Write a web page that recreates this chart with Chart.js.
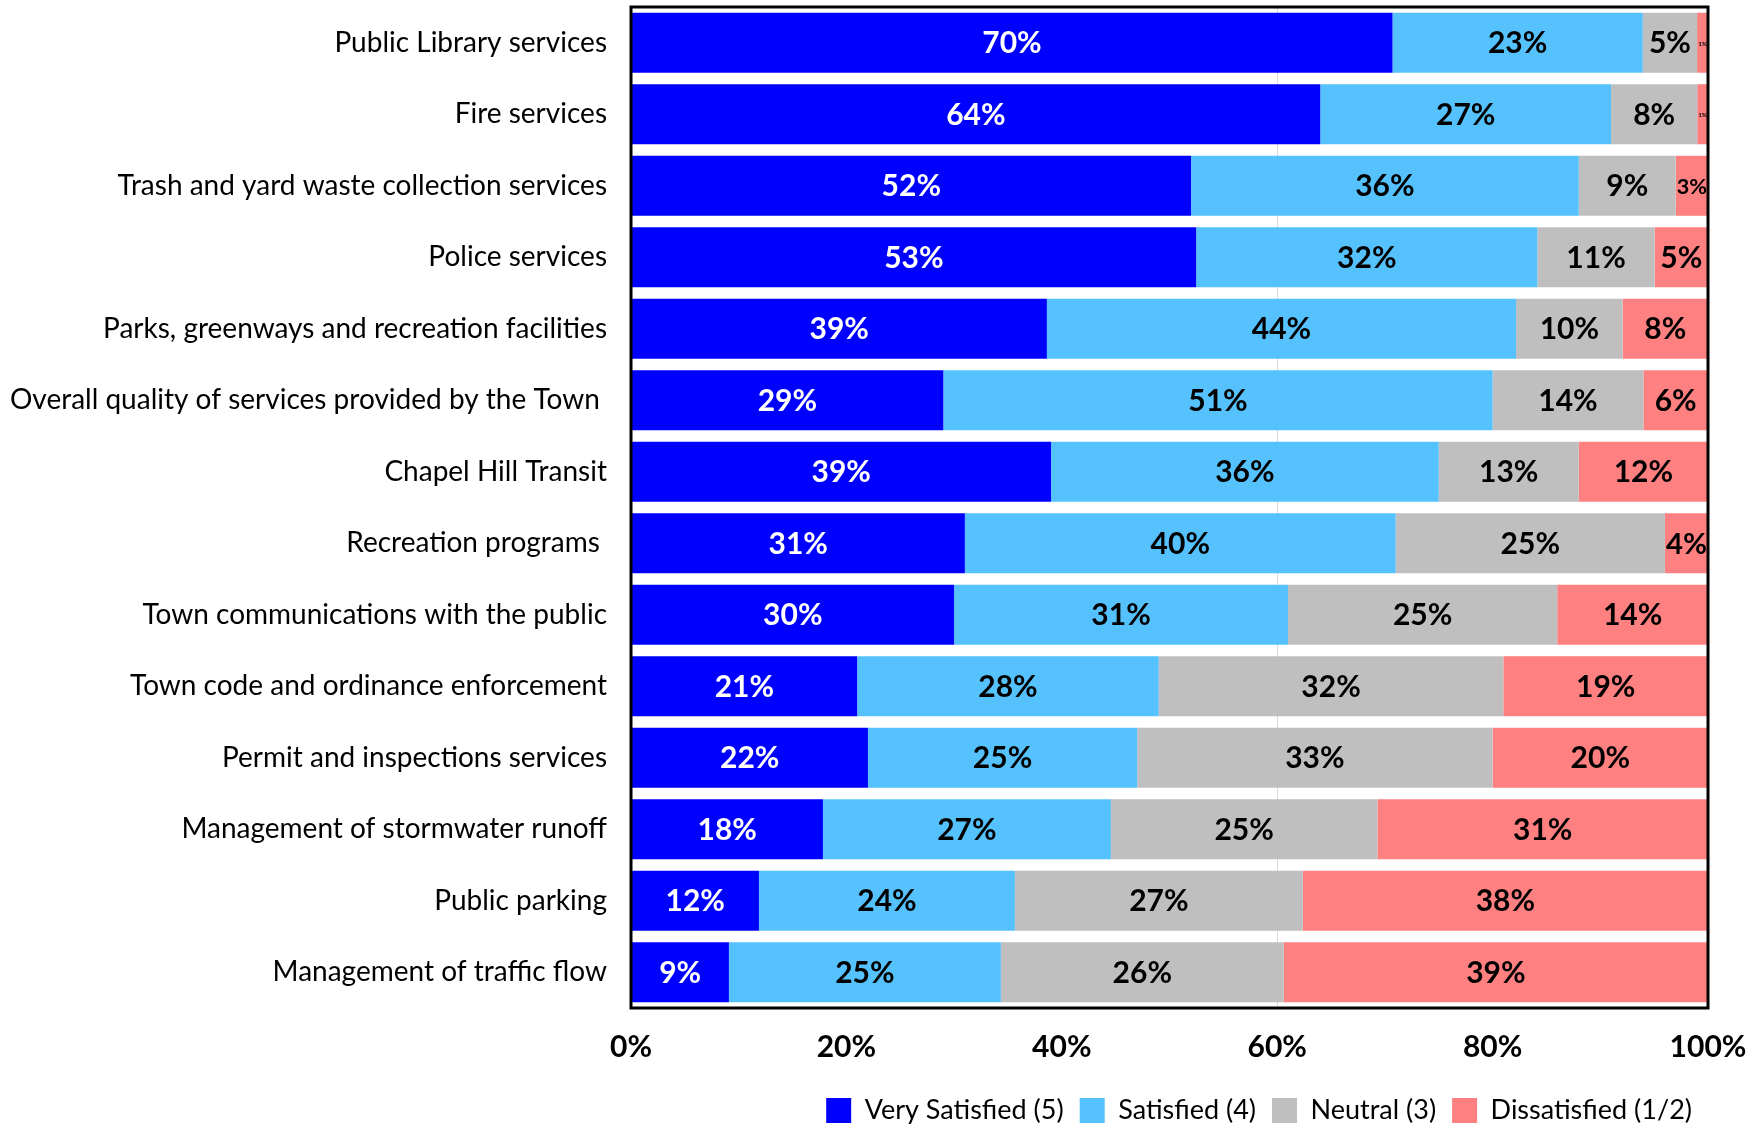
<!DOCTYPE html>
<html>
<head>
<meta charset="utf-8">
<title>Resident satisfaction with Town services</title>
<script src="https://cdn.jsdelivr.net/npm/chart.js@4.4.0/dist/chart.umd.min.js"></script>
<style>
  html, body { margin: 0; padding: 0; background: #fff; }
  #wrap { width: 1758px; height: 1125px; position: relative; }
</style>
</head>
<body>
<div id="wrap"><canvas id="chart"></canvas></div>
<script>
const categories = [
  "Public Library services",
  "Fire services",
  "Trash and yard waste collection services",
  "Police services",
  "Parks, greenways and recreation facilities",
  "Overall quality of services provided by the Town ",
  "Chapel Hill Transit",
  "Recreation programs ",
  "Town communications with the public",
  "Town code and ordinance enforcement",
  "Permit and inspections services",
  "Management of stormwater runoff",
  "Public parking",
  "Management of traffic flow"
];
const verySatisfied = [70, 64, 52, 53, 39, 29, 39, 31, 30, 21, 22, 18, 12, 9];
const satisfied     = [23, 27, 36, 32, 44, 51, 36, 40, 31, 28, 25, 27, 24, 25];
const neutral       = [5, 8, 9, 11, 10, 14, 13, 25, 25, 32, 33, 25, 27, 26];
const dissatisfied  = [1, 1, 3, 5, 8, 6, 12, 4, 14, 19, 20, 31, 38, 39];
const seriesNames = ["Very Satisfied (5)", "Satisfied (4)", "Neutral (3)", "Dissatisfied (1/2)"];
const seriesColors = ["#0000ff", "#56c2fd", "#bfbfbf", "#ff8080"];
const xTicks = [0, 20, 40, 60, 80, 100];

const FONT = "Lato, 'Open Sans', sans-serif";
const series = [verySatisfied, satisfied, neutral, dissatisfied];

// every row is shown as a 100% stacked bar
const rowTotals = categories.map((_, i) => series.reduce((s, arr) => s + arr[i], 0));
const shares = arr => arr.map((v, i) => v / rowTotals[i] * 100);

const datasets = series.map((arr, k) => ({
  label: seriesNames[k],
  data: shares(arr),
  raw: arr,
  backgroundColor: seriesColors[k],
  borderWidth: 0,
  categoryPercentage: 1,
  barPercentage: 0.84
}));

// percentage text in the middle of each segment, shrunk when the segment is narrow
const valueLabels = {
  id: 'valueLabels',
  afterDatasetsDraw(chart) {
    const ctx = chart.ctx;
    ctx.save();
    ctx.textAlign = 'center';
    ctx.textBaseline = 'middle';
    chart.data.datasets.forEach((ds, di) => {
      chart.getDatasetMeta(di).data.forEach((bar, i) => {
        const p = bar.getProps(['x', 'base', 'y'], true);
        const w = Math.abs(p.x - p.base);
        const text = ds.raw[i] + '%';
        let size = 30;
        ctx.font = `bold ${size}px ${FONT}`;
        const tw = ctx.measureText(text).width;
        if (tw > w - 2) {
          size = Math.max(6, size * (w - 2) / tw);
          ctx.font = `bold ${size}px ${FONT}`;
        }
        ctx.fillStyle = di === 0 ? '#ffffff' : '#000000';
        ctx.fillText(text, (p.x + p.base) / 2, p.y + 1);
      });
    });
    ctx.restore();
  }
};

// black frame round the plot area
const plotFrame = {
  id: 'plotFrame',
  afterDraw(chart) {
    const a = chart.chartArea;
    const ctx = chart.ctx;
    ctx.save();
    ctx.strokeStyle = '#000';
    ctx.lineWidth = 3;
    ctx.strokeRect(a.left, a.top, a.right - a.left, a.bottom - a.top);
    ctx.restore();
  }
};

new Chart(document.getElementById('chart'), {
  type: 'bar',
  data: { labels: categories, datasets },
  plugins: [valueLabels, plotFrame],
  options: {
    indexAxis: 'y',
    responsive: true,
    maintainAspectRatio: false,
    animation: false,
    layout: { padding: { top: 7, right: 50, bottom: -9, left: 0 } },
    plugins: {
      tooltip: { enabled: false },
      legend: {
        position: 'bottom',
        align: 'end',
        labels: {
          boxWidth: 25,
          boxHeight: 25,
          padding: 16,
          color: '#000',
          font: { family: FONT, size: 27 }
        }
      }
    },
    scales: {
      x: {
        stacked: true,
        min: 0,
        max: 100,
        afterBuildTicks: s => { s.ticks = xTicks.map(v => ({ value: v })); },
        grid: {
          drawTicks: false,
          color: c => c.tick && c.tick.value === 60 ? '#d9d9d9' : 'transparent'
        },
        border: { display: false },
        ticks: {
          padding: 21,
          color: '#000',
          font: { family: FONT, size: 30, weight: 'bold' },
          callback: v => v + '%'
        },
        afterFit: s => { s.height = 73; s.paddingLeft = 0; s.paddingRight = 0; }
      },
      y: {
        stacked: true,
        grid: { display: false, drawTicks: false },
        border: { display: false },
        ticks: {
          padding: 24,
          color: '#000',
          font: { family: FONT, size: 28 }
        },
        afterFit: s => { s.width = 631; s.paddingTop = 0; s.paddingBottom = 0; }
      }
    }
  }
});
</script>
</body>
</html>
